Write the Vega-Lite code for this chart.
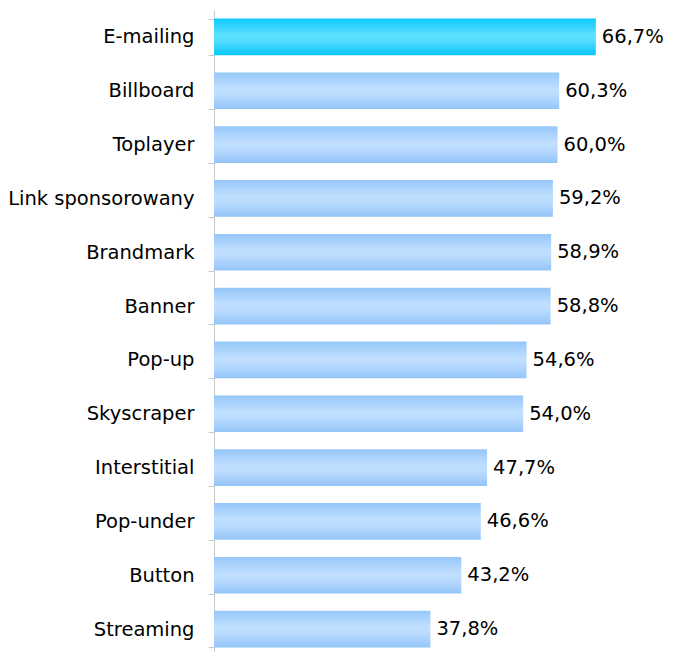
{
  "$schema": "https://vega.github.io/schema/vega-lite/v6.json",
  "autosize": "none",
  "padding": {"left": 214, "top": 10, "right": 0, "bottom": 0},
  "width": 458,
  "height": 646,
  "background": "white",
  "config": {"view": {"stroke": null}},
  "data": {
    "values": [
      {"name": "E-mailing", "value": 66.7, "label": "66,7%"},
      {"name": "Billboard", "value": 60.3, "label": "60,3%"},
      {"name": "Toplayer", "value": 60.0, "label": "60,0%"},
      {"name": "Link sponsorowany", "value": 59.2, "label": "59,2%"},
      {"name": "Brandmark", "value": 58.9, "label": "58,9%"},
      {"name": "Banner", "value": 58.8, "label": "58,8%"},
      {"name": "Pop-up", "value": 54.6, "label": "54,6%"},
      {"name": "Skyscraper", "value": 54.0, "label": "54,0%"},
      {"name": "Interstitial", "value": 47.7, "label": "47,7%"},
      {"name": "Pop-under", "value": 46.6, "label": "46,6%"},
      {"name": "Button", "value": 43.2, "label": "43,2%"},
      {"name": "Streaming", "value": 37.8, "label": "37,8%"}
    ]
  },
  "encoding": {
    "y": {
      "field": "name",
      "type": "nominal",
      "sort": null,
      "scale": {"paddingInner": 0.32, "paddingOuter": 0.16},
      "axis": {
        "title": null,
        "tickBand": "extent",
        "domainColor": "#c8c8c8",
        "tickColor": "#c8c8c8",
        "tickSize": 6,
        "labelPadding": 14,
        "labelFont": "DejaVu Sans",
        "labelFontSize": 19.5,
        "labelColor": "#000000",
        "labelLimit": 300
      }
    },
    "x": {
      "field": "value",
      "type": "quantitative",
      "scale": {"domain": [0, 80], "nice": false},
      "axis": null
    }
  },
  "layer": [
    {
      "mark": {"type": "bar"},
      "encoding": {
        "color": {
          "condition": {
            "test": "datum.name == 'E-mailing'",
            "value": {
              "gradient": "linear", "x1": 0, "y1": 0, "x2": 0, "y2": 1,
              "stops": [
                {"offset": 0, "color": "#0cc9fb"},
                {"offset": 0.45, "color": "#5de0ff"},
                {"offset": 0.6, "color": "#55ddff"},
                {"offset": 1, "color": "#08c6fa"}
              ]
            }
          },
          "value": {
            "gradient": "linear", "x1": 0, "y1": 0, "x2": 0, "y2": 1,
            "stops": [
              {"offset": 0, "color": "#96c7f9"},
              {"offset": 0.45, "color": "#c0dfff"},
              {"offset": 0.6, "color": "#bcdcff"},
              {"offset": 1, "color": "#94c5f8"}
            ]
          }
        }
      }
    },
    {
      "mark": {"type": "text", "align": "left", "baseline": "middle", "dx": 6, "font": "DejaVu Sans", "fontSize": 19.5, "color": "#000000"},
      "encoding": {"text": {"field": "label"}}
    }
  ]
}
